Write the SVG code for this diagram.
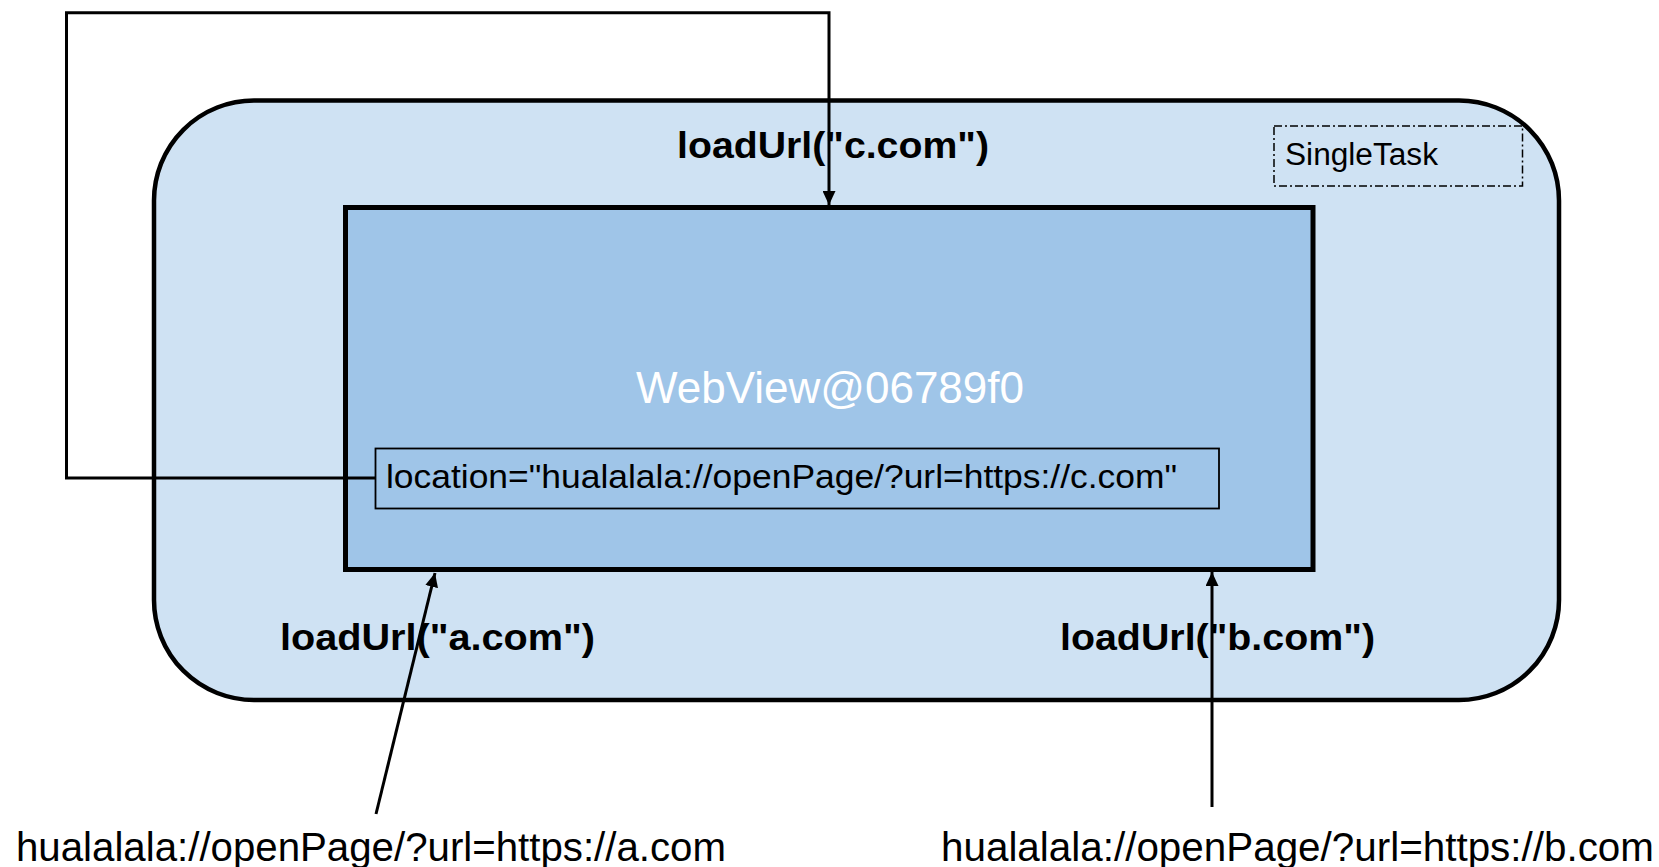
<svg xmlns="http://www.w3.org/2000/svg" width="1659" height="867" viewBox="0 0 1659 867">
  <style>
    .txt { font-family: "Liberation Sans", Arial, sans-serif; fill: #000; }
    .bold { font-weight: bold; font-size: 37px; }
    .conn { fill: none; stroke: #000; stroke-width: 3; }
  </style>
  <defs>
    <marker id="arrow" markerUnits="userSpaceOnUse" markerWidth="14" markerHeight="13" refX="14" refY="6.5" orient="auto">
      <path d="M0,0 L14,6.5 L0,13 z" fill="#000"/>
    </marker>
  </defs>
  <rect width="1659" height="867" fill="#ffffff"/>

  <g id="singletask-container">
    <rect x="154" y="100.5" width="1405" height="599.5" rx="100" ry="100" fill="#CFE2F3" stroke="#000" stroke-width="4.5"/>
  </g>

  <g id="singletask-label">
    <rect x="1274" y="126" width="248.5" height="60" fill="none" stroke="#000" stroke-width="1.5" stroke-dasharray="8 3 2 3"/>
    <text class="txt" x="1285" y="165" font-size="31" textLength="153" lengthAdjust="spacingAndGlyphs">SingleTask</text>
  </g>

  <g id="webview">
    <rect x="345.5" y="207.5" width="967.5" height="362" fill="#9FC5E8" stroke="#000" stroke-width="5"/>
    <text class="txt" x="830" y="403" font-size="43.5" text-anchor="middle" style="fill:#ffffff" textLength="388" lengthAdjust="spacingAndGlyphs">WebView@06789f0</text>
  </g>

  <g id="location">
    <rect x="375.5" y="448.5" width="843.5" height="60" fill="#9FC5E8" stroke="#000" stroke-width="1.8"/>
    <text class="txt" x="386" y="488" font-size="34" textLength="791" lengthAdjust="spacingAndGlyphs">location="hualalala://openPage/?url=https://c.com"</text>
  </g>

  <g id="label-c">
    <text class="txt bold" x="677" y="158" textLength="312" lengthAdjust="spacingAndGlyphs">loadUrl("c.com")</text>
  </g>
  <g id="label-a">
    <text class="txt bold" x="280" y="650" textLength="315" lengthAdjust="spacingAndGlyphs">loadUrl("a.com")</text>
  </g>
  <g id="label-b">
    <text class="txt bold" x="1060" y="650" textLength="315" lengthAdjust="spacingAndGlyphs">loadUrl("b.com")</text>
  </g>

  <g id="source-a">
    <text class="txt" x="16" y="861" font-size="40" textLength="710" lengthAdjust="spacingAndGlyphs">hualalala://openPage/?url=https://a.com</text>
  </g>
  <g id="source-b">
    <text class="txt" x="941" y="861" font-size="40" textLength="713" lengthAdjust="spacingAndGlyphs">hualalala://openPage/?url=https://b.com</text>
  </g>

  <g id="connectors">
    <path class="conn" d="M375.5,478 H66.5 V12.7 H829 V205" marker-end="url(#arrow)"/>
    <path class="conn" d="M376,814 L435,573" marker-end="url(#arrow)"/>
    <path class="conn" d="M1212,807 V572" marker-end="url(#arrow)"/>
  </g>
</svg>
